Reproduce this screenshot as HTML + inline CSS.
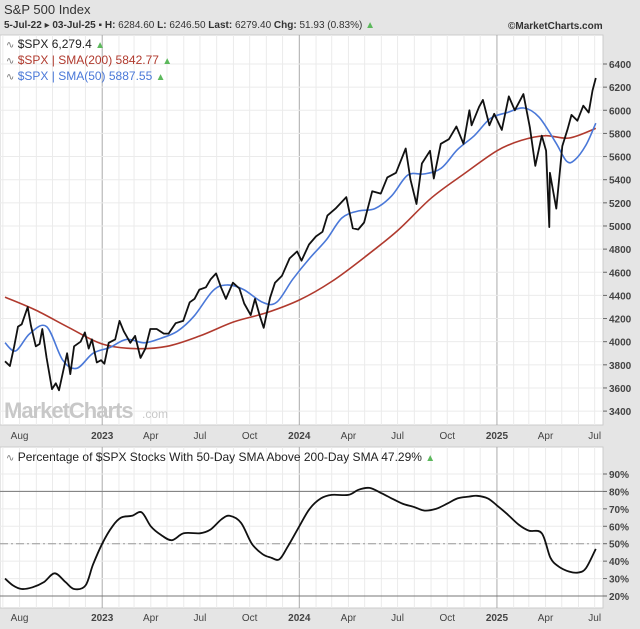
<!DOCTYPE html>
<html><head><meta charset="utf-8"><style>
body{margin:0;background:#e5e5e5;font-family:"Liberation Sans",sans-serif;}
#wrap{position:relative;width:640px;height:629px;overflow:hidden;background:#e5e5e5;}
svg{position:absolute;left:0;top:0;}
</style></head><body>
<div id="wrap">
<svg id="c" width="640" height="629" xmlns="http://www.w3.org/2000/svg"></svg>
</div>
<script>
const spxDates=["2022-07-05","2022-07-14","2022-07-22","2022-07-29","2022-08-05","2022-08-16","2022-08-22","2022-08-31","2022-09-07","2022-09-12","2022-09-20","2022-09-30","2022-10-07","2022-10-13","2022-10-21","2022-10-28","2022-11-03","2022-11-10","2022-11-22","2022-11-30","2022-12-07","2022-12-13","2022-12-22","2022-12-30","2023-01-05","2023-01-13","2023-01-25","2023-02-02","2023-02-10","2023-02-22","2023-03-03","2023-03-13","2023-03-22","2023-03-31","2023-04-12","2023-04-25","2023-05-04","2023-05-17","2023-05-31","2023-06-12","2023-06-21","2023-06-30","2023-07-12","2023-07-21","2023-07-31","2023-08-09","2023-08-18","2023-08-31","2023-09-12","2023-09-21","2023-10-03","2023-10-11","2023-10-20","2023-10-27","2023-11-08","2023-11-17","2023-11-30","2023-12-14","2023-12-28","2024-01-05","2024-01-19","2024-02-01","2024-02-13","2024-02-22","2024-03-08","2024-03-28","2024-04-09","2024-04-19","2024-04-30","2024-05-15","2024-05-31","2024-06-12","2024-06-28","2024-07-16","2024-07-25","2024-08-05","2024-08-15","2024-08-30","2024-09-06","2024-09-19","2024-10-04","2024-10-18","2024-10-31","2024-11-11","2024-11-15","2024-11-29","2024-12-06","2024-12-18","2024-12-27","2025-01-10","2025-01-23","2025-02-03","2025-02-19","2025-03-03","2025-03-13","2025-03-25","2025-04-02","2025-04-08","2025-04-09","2025-04-16","2025-04-21","2025-05-02","2025-05-12","2025-05-19","2025-05-30","2025-06-10","2025-06-20","2025-06-27","2025-07-03"];
const spxValues=[3830,3790,3960,4130,4150,4300,4140,3960,3980,4110,3860,3590,3640,3580,3750,3900,3720,3960,4000,4080,3940,4020,3820,3840,3810,3990,4020,4180,4090,3990,4050,3860,3940,4110,4110,4070,4070,4160,4180,4340,4370,4450,4470,4540,4590,4470,4370,4510,4460,4330,4230,4370,4220,4120,4380,4510,4570,4720,4780,4700,4840,4910,4950,5090,5150,5250,4980,4970,5030,5300,5280,5420,5460,5670,5400,5190,5540,5650,5410,5710,5750,5860,5710,6000,5870,6030,6090,5870,5970,5830,6120,6000,6140,5850,5520,5780,5650,4990,5460,5280,5150,5690,5840,5960,5910,6040,5980,6170,6279];
const smaLongDates=["2022-07-05","2022-09-01","2022-11-01","2023-01-01","2023-03-01","2023-05-01","2023-07-01","2023-09-01","2023-11-01","2024-01-01","2024-03-01","2024-05-01","2024-07-01","2024-09-01","2024-11-01","2025-01-01","2025-02-15","2025-04-01","2025-05-15","2025-07-03"];
const smaLongValues=[4385,4270,4120,3980,3940,3960,4050,4170,4250,4360,4520,4730,4960,5240,5450,5650,5740,5780,5760,5843];
const smaShortDates=["2022-07-05","2022-07-25","2022-08-20","2022-09-20","2022-10-20","2022-11-15","2022-12-15","2023-01-15","2023-02-15","2023-03-20","2023-04-20","2023-05-20","2023-06-20","2023-07-25","2023-08-20","2023-09-20","2023-10-25","2023-11-20","2023-12-20","2024-01-20","2024-02-20","2024-03-20","2024-04-20","2024-05-20","2024-06-20","2024-07-20","2024-08-20","2024-09-20","2024-10-20","2024-11-20","2024-12-20","2025-01-20","2025-02-20","2025-03-20","2025-04-20","2025-05-10","2025-05-25","2025-06-15","2025-07-03"];
const smaShortValues=[3990,3920,4070,4130,3840,3770,3900,3950,4020,3990,4030,4090,4220,4440,4490,4450,4340,4340,4540,4720,4880,5070,5130,5150,5260,5440,5450,5500,5660,5780,5930,5980,6020,5940,5720,5560,5570,5700,5888];
const brDates=["2022-07-05","2022-07-20","2022-08-05","2022-08-25","2022-09-15","2022-10-05","2022-10-25","2022-11-10","2022-12-01","2022-12-15","2023-01-01","2023-01-20","2023-02-05","2023-02-25","2023-03-15","2023-04-01","2023-04-20","2023-05-10","2023-06-01","2023-07-01","2023-07-20","2023-08-10","2023-08-25","2023-09-15","2023-10-05","2023-10-25","2023-11-10","2023-11-25","2023-12-10","2024-01-01","2024-01-20","2024-02-10","2024-03-01","2024-04-01","2024-04-20","2024-05-10","2024-06-01","2024-06-20","2024-07-10","2024-08-01","2024-08-20","2024-09-10","2024-10-01","2024-10-20","2024-11-10","2024-11-25","2024-12-15","2025-01-01","2025-01-20","2025-02-10","2025-03-01","2025-03-25","2025-04-10","2025-04-25","2025-05-15","2025-06-01","2025-06-15","2025-07-03"];
const brValues=[30,26,24,25,28,33,28,24,26,38,50,60,65,66,68,60,55,52,56,56,58,64,66,62,50,44,42,41,48,60,70,76,78,78,81,82,79,76,73,71,69,70,73,76,77,77.5,76,72,67,61,57.5,56,42,37,34,33.5,36,47];
const priceTicks=[3400,3600,3800,4000,4200,4400,4600,4800,5000,5200,5400,5600,5800,6000,6200,6400];
const brTicks=[20,30,40,50,60,70,80,90];
const monthLabels=[["2022-08-01","Aug"],["2023-01-01","2023"],["2023-04-01","Apr"],["2023-07-01","Jul"],["2023-10-01","Oct"],["2024-01-01","2024"],["2024-04-01","Apr"],["2024-07-01","Jul"],["2024-10-01","Oct"],["2025-01-01","2025"],["2025-04-01","Apr"],["2025-07-01","Jul"]];

const NS="http://www.w3.org/2000/svg";
const svg=document.getElementById('c');
const T0=Date.UTC(2022,6,5);
function X(d){const p=d.split('-');return 5+(Date.UTC(+p[0],+p[1]-1,+p[2])-T0)/86400000*0.540;}
function YP(v){return 64+(6400-v)*0.1157;}
function YB(v){return 596-(v-20)*1.743;}
function el(tag,attrs,parent){const e=document.createElementNS(NS,tag);for(const k in attrs)e.setAttribute(k,attrs[k]);(parent||svg).appendChild(e);return e;}
function txt(s,x,y,attrs,name){const t=el('text',Object.assign({x:x,y:y,'font-family':'"Liberation Sans",sans-serif'},attrs));t.textContent=s;


return t;}

txt('S&P 500 Index',4,14,{'font-size':'13',fill:'#333'},'chart-title');
const h=txt('',4,28,{'font-size':'10',fill:'#333'},'header-stats');
h.innerHTML='<tspan font-weight="bold">5-Jul-22</tspan> ▸ <tspan font-weight="bold">03-Jul-25</tspan> ▪ <tspan font-weight="bold">H:</tspan> 6284.60 <tspan font-weight="bold">L:</tspan> 6246.50 <tspan font-weight="bold">Last:</tspan> 6279.40 <tspan font-weight="bold">Chg:</tspan> 51.93 (0.83%) <tspan fill="#5cb85c">▲</tspan>';
txt('©MarketCharts.com',508,29,{'font-size':'10','font-weight':'bold',fill:'#333'},'copyright');

function panel(y0,y1,name){
 const r=el('rect',{x:0,y:y0,width:603,height:y1-y0,fill:'#fff',stroke:'#ccc'});
 
 
 for(let yr=2022;yr<=2025;yr++)for(let m=0;m<12;m++){
  const ds=yr+'-'+String(m+1).padStart(2,'0')+'-01';const x=X(ds);
  if(x<1||x>602)continue;
  const g=el('line',{x1:x,x2:x,y1:y0,y2:y1,stroke:m===0?'#aaa':'#ebebeb','stroke-width':1});
  
  
 }
}
function xLabels(y){
 monthLabels.forEach(function(m){
  txt(m[1],X(m[0]),y,{'font-size':'10','text-anchor':'middle',fill:'#444','font-weight':m[1].length===4?'bold':'normal'},'x-tick-label');
 });
}
panel(35,425,'price-panel');
priceTicks.forEach(function(v){
 const g=el('line',{x1:0,x2:603,y1:YP(v),y2:YP(v),stroke:'#ebebeb'});
 
 
 el('line',{x1:603,x2:607,y1:YP(v),y2:YP(v),stroke:'#666'});
 txt(String(v),609,YP(v)+4,{'font-size':'10','font-weight':'bold',fill:'#444'},'y-tick-label');
});
txt('MarketCharts',4,418,{'font-size':'22','font-weight':'bold',fill:'#c8c8c8','letter-spacing':'-1'},'watermark');
txt('.com',142,418,{'font-size':'12',fill:'#c8c8c8'},'watermark-com');
xLabels(439);

function line(dates,vals,yf,color,w,name,smooth){
 const pts=dates.map(function(d,i){return [X(d),yf(vals[i])];});
 let d='M'+pts[0][0].toFixed(1)+','+pts[0][1].toFixed(1);
 for(let i=1;i<pts.length;i++){
  if(smooth){
   const p0=pts[Math.max(i-2,0)],p1=pts[i-1],p2=pts[i],p3=pts[Math.min(i+1,pts.length-1)];
   const c1x=p1[0]+(p2[0]-p0[0])/6,c1y=p1[1]+(p2[1]-p0[1])/6,c2x=p2[0]-(p3[0]-p1[0])/6,c2y=p2[1]-(p3[1]-p1[1])/6;
   d+='C'+c1x.toFixed(1)+','+c1y.toFixed(1)+' '+c2x.toFixed(1)+','+c2y.toFixed(1)+' '+p2[0].toFixed(1)+','+p2[1].toFixed(1);
  } else d+='L'+pts[i][0].toFixed(1)+','+pts[i][1].toFixed(1);
 }
 const p=el('path',{d:d,fill:'none',stroke:color,'stroke-width':w,'stroke-linejoin':'round'});
 
 
}
line(smaLongDates,smaLongValues,YP,'#b03a2e',1.6,'sma200-line',true);
line(smaShortDates,smaShortValues,YP,'#4a78d8',1.6,'sma50-line',true);
line(spxDates,spxValues,YP,'#111',1.8,'spx-price-line',false);

function leg(y,label,color,name){
 const t=txt('',6,y,{'font-size':'12',fill:color},name);
 t.innerHTML='<tspan fill="#777" font-size="10">∿</tspan> '+label+' <tspan fill="#5cb85c" font-size="10">▲</tspan>';
}
leg(48,'$SPX 6,279.4','#222','legend-spx');
leg(64,'$SPX | SMA(200) 5842.77','#b03a2e','legend-sma200');
leg(80,'$SPX | SMA(50) 5887.55','#4a78d8','legend-sma50');

panel(447,608,'breadth-panel');
brTicks.forEach(function(v){
 const g=el('line',{x1:0,x2:603,y1:YB(v),y2:YB(v),stroke:'#ebebeb'});
 
 
 el('line',{x1:603,x2:607,y1:YB(v),y2:YB(v),stroke:'#666'});
 txt(v+'%',609,YB(v)+4,{'font-size':'10','font-weight':'bold',fill:'#444'},'y-tick-label-pct');
});
[80,20].forEach(function(v){
 const r=el('line',{x1:0,x2:603,y1:YB(v),y2:YB(v),stroke:'#777','stroke-width':1});
 
 
});
const mid=el('line',{x1:0,x2:603,y1:YB(50),y2:YB(50),stroke:'#999','stroke-dasharray':'8,3,2,3'});


line(brDates,brValues,YB,'#111',1.8,'breadth-line',true);
leg(461,'Percentage of $SPX Stocks With 50-Day SMA Above 200-Day SMA 47.29%','#222','legend-breadth');
xLabels(621);
</script>
</body></html>
